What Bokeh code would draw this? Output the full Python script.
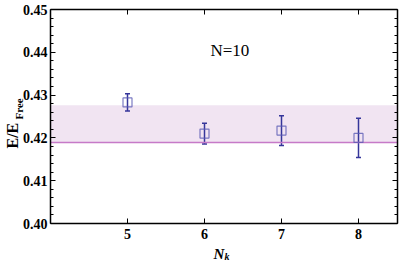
import numpy as np
from bokeh.plotting import figure
from bokeh.models import (ColumnDataSource, Whisker, TeeHead, BoxAnnotation,
                          Label, LinearAxis, FixedTicker, Range1d)
from bokeh.embed import file_html
from bokeh.resources import INLINE

# data
nk = [5, 6, 7, 8]
ratio = [0.4283, 0.4210, 0.4217, 0.4200]
err = [0.0020, 0.0024, 0.0035, 0.0046]
band_low = 0.4189
band_high = 0.4276
y_ticks = [0.40, 0.41, 0.42, 0.43, 0.44, 0.45]
y_minor = [round(0.40 + 0.002 * i, 3) for i in range(26)]
x_ticks = [5, 6, 7, 8]
x_lim = (4.0, 8.5)
y_lim = (0.40, 0.45)
title_text = "N=10"

FONT = "Liberation Serif"
W, H = 399, 262
PX_X = 77.0      # pixels per x unit
PX_Y = 4280.0    # pixels per y unit
FL, FT = 50, 9   # frame left / top in pixels

# whole canvas is the data frame; axes are drawn at fixed data locations
xr = Range1d(x_lim[0] - FL / PX_X, x_lim[0] + (W - FL) / PX_X)
yr = Range1d(y_lim[1] - (H - FT) / PX_Y, y_lim[1] + FT / PX_Y)

p = figure(width=W, height=H, output_backend="svg", toolbar_location=None,
           x_range=xr, y_range=yr, min_border=0,
           x_axis_location=None, y_axis_location=None)
p.outline_line_color = None
p.grid.visible = False
p.background_fill_color = "white"
p.border_fill_color = "white"

src = ColumnDataSource(dict(
    x=nk, y=ratio,
    lo=[r - e for r, e in zip(ratio, err)],
    hi=[r + e for r, e in zip(ratio, err)],
))

p.add_layout(BoxAnnotation(left=x_lim[0], right=x_lim[1], bottom=band_low, top=band_high,
                           fill_color="#f1e4f2", fill_alpha=1.0, line_color=None,
                           level="underlay"))
p.segment(x0=[x_lim[0]], x1=[x_lim[1]], y0=[band_low], y1=[band_low],
          line_color="#c67ac8", line_width=1.5)

wh = Whisker(source=src, base="x", upper="hi", lower="lo", line_color="#35359a", line_width=1.5,
             upper_head=TeeHead(size=5, line_color="#35359a", line_width=1.5),
             lower_head=TeeHead(size=5, line_color="#35359a", line_width=1.5))
p.add_layout(wh)
p.scatter("x", "y", source=src, marker="square", size=9, fill_color=None,
          line_color="#5a5ab4", line_alpha=0.8, line_width=1.2)


def make_axis(loc, ticks, minor, bounds, labels=True):
    ax = LinearAxis(fixed_location=loc, ticker=FixedTicker(ticks=ticks, minor_ticks=minor),
                    bounds=bounds)
    ax.axis_line_color = "black"
    ax.axis_line_width = 1.5
    ax.major_tick_in = 5
    ax.major_tick_out = 0
    ax.minor_tick_in = 3
    ax.minor_tick_out = 0
    ax.major_tick_line_color = "black"
    ax.minor_tick_line_color = "black" if minor else None
    ax.major_label_text_font = FONT
    ax.major_label_text_font_style = "bold"
    ax.major_label_text_font_size = "14px"
    ax.major_label_text_color = "black" if labels else None
    return ax


left = make_axis(x_lim[0], y_ticks, y_minor, y_lim)
left.major_label_overrides = {t: f"{t:.2f}" for t in y_ticks}
left.major_label_standoff = 3
p.add_layout(left, "left")

right = make_axis(x_lim[1], y_ticks, y_minor, y_lim, labels=False)
p.add_layout(right, "right")

bottom = make_axis(y_lim[0], x_ticks, [], x_lim)
bottom.major_label_standoff = 5
p.add_layout(bottom, "below")

top = make_axis(y_lim[1], x_ticks, [], x_lim, labels=False)
p.add_layout(top, "above")

# N=10 text
p.add_layout(Label(x=6.078, y=0.4404, text=title_text, text_font=FONT, text_font_size="17px",
                   text_color="black", text_baseline="alphabetic"))

# y label E/E_Free (rotated)
p.add_layout(Label(x=3.5065, y=0.45 - 139 / PX_Y, text="E/E", angle=np.pi / 2,
                   text_font=FONT, text_font_style="bold", text_font_size="16px",
                   text_color="black", text_baseline="alphabetic", text_align="left"))
p.add_layout(Label(x=3.595, y=0.45 - 110 / PX_Y, text="Free", angle=np.pi / 2,
                   text_font=FONT, text_font_style="bold", text_font_size="11px",
                   text_color="black", text_baseline="alphabetic", text_align="left"))

# x label N_k
p.add_layout(Label(x=6.117, y=0.40 - 30 / PX_Y, text="N", text_font=FONT,
                   text_font_style="bold italic", text_font_size="15px", text_color="black",
                   text_baseline="alphabetic", text_align="left"))
p.add_layout(Label(x=6.117 + 11 / PX_X, y=0.40 - 33 / PX_Y, text="k", text_font=FONT,
                   text_font_style="bold italic", text_font_size="10px", text_color="black",
                   text_baseline="alphabetic", text_align="left"))

open("out.html", "w").write(file_html(p, INLINE))
